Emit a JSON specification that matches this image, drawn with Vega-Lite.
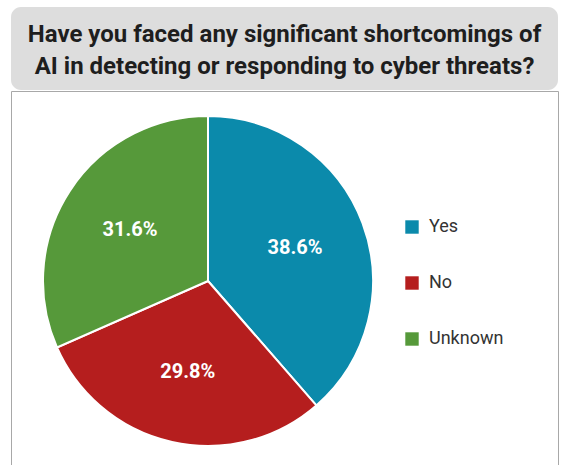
{
  "$schema": "https://vega.github.io/schema/vega-lite/v6.json",
  "padding": {"left": 10, "top": 7, "right": 6, "bottom": 0},
  "background": "white",
  "spacing": 0,
  "config": {"font": "Roboto", "concat": {"spacing": 0}},
  "datasets": {
    "answers": [
      {"answer": "Yes", "share": 38.6, "order": 1, "label": "38.6%"},
      {"answer": "No", "share": 29.8, "order": 2, "label": "29.8%"},
      {"answer": "Unknown", "share": 31.6, "order": 3, "label": "31.6%"}
    ]
  },
  "vconcat": [
    {
      "width": 547,
      "height": 83,
      "view": {"fill": "#dddddd", "stroke": null, "cornerRadius": 10},
      "data": {"values": [{}]},
      "mark": {
        "type": "text",
        "text": ["Have you faced any significant shortcomings of", "AI in detecting or responding to cyber threats?"],
        "font": "Roboto",
        "fontSize": 24,
        "fontWeight": "bold",
        "fill": "#1e1e1e",
        "lineHeight": 32,
        "align": "center",
        "baseline": "middle",
        "dy": -14
      }
    },
    {
      "width": 547,
      "height": 374,
      "view": {"stroke": "#a8a8a8", "strokeWidth": 1, "fill": "white"},
      "data": {"name": "answers"},
      "encoding": {
        "theta": {"field": "share", "type": "quantitative", "stack": true},
        "order": {"field": "order", "type": "quantitative"}
      },
      "layer": [
        {
          "mark": {"type": "arc", "outerRadius": 165, "x": 197, "y": 190, "stroke": "white", "strokeWidth": 2},
          "encoding": {
            "color": {
              "field": "answer",
              "type": "nominal",
              "scale": {"domain": ["Yes", "No", "Unknown"], "range": ["#0b8aab", "#b51e1e", "#56993a"]},
              "legend": {
                "orient": "none",
                "legendX": 392,
                "legendY": 211,
                "title": null,
                "symbolType": "square",
                "symbolSize": 180,
                "symbolStrokeWidth": 0,
                "labelFontSize": 18,
                "labelFont": "Roboto",
                "labelColor": "#333333",
                "labelOffset": 8,
                "rowPadding": 38,
                "padding": 0
              }
            }
          }
        },
        {
          "mark": {"type": "text", "radius": 93, "x": 197, "y": 190, "fill": "white", "fontSize": 20, "fontWeight": "bold", "font": "Roboto", "align": "center", "baseline": "middle"},
          "encoding": {
            "text": {"field": "label", "type": "nominal"}
          }
        }
      ]
    }
  ]
}
